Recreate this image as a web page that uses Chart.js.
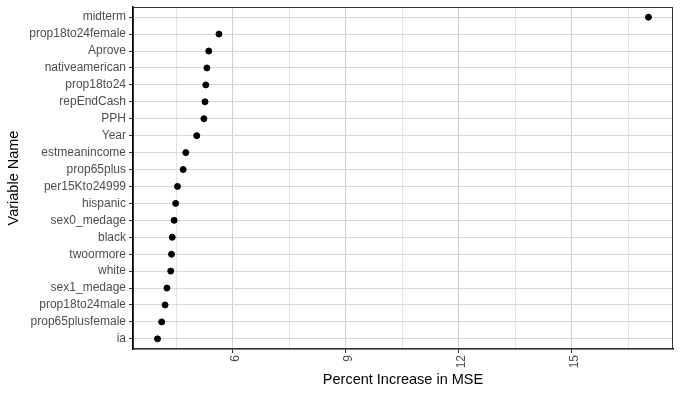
<!DOCTYPE html>
<html>
<head>
<meta charset="utf-8">
<script src="https://cdn.jsdelivr.net/npm/chart.js@4.4.0/dist/chart.umd.min.js"></script>
<style>
html,body{margin:0;padding:0;background:#fff;}
#wrap{width:681px;height:395px;position:relative;}
</style>
</head>
<body>
<div id="wrap"><canvas id="c" width="681" height="395"></canvas></div>
<script>
// Variables, top to bottom
const variables = ["midterm","prop18to24female","Aprove","nativeamerican","prop18to24","repEndCash","PPH","Year","estmeanincome","prop65plus","per15Kto24999","hispanic","sex0_medage","black","twoormore","white","sex1_medage","prop18to24male","prop65plusfemale","ia"];
const pctIncMSE = [17.04,5.64,5.37,5.32,5.29,5.27,5.24,5.05,4.76,4.69,4.54,4.49,4.45,4.40,4.38,4.36,4.26,4.21,4.12,4.01];
const xMajorTicks = [6,9,12,15];
const xMinorTicks = [4.5,7.5,10.5,13.5,16.5];

const points = variables.map((v,i)=>({x:pctIncMSE[i], y:i}));
const n = variables.length;
const lo = Math.min(...pctIncMSE), hi = Math.max(...pctIncMSE);
const pad = (hi-lo)*0.05;

const borderPlugin = {
  id:'panelBorder',
  afterDraw(chart){
    const {ctx, chartArea:a} = chart;
    ctx.save();
    ctx.strokeStyle = '#333';
    ctx.lineWidth = 1;
    ctx.strokeRect(Math.round(a.left)+0.5, Math.round(a.top)+0.5, Math.round(a.right-a.left)-1, Math.round(a.bottom-a.top)-1);
    ctx.restore();
  }
};

new Chart(document.getElementById('c'), {
  type:'scatter',
  data:{datasets:[{data:points, backgroundColor:'#000', borderColor:'#000', pointRadius:3, pointHoverRadius:3}]},
  plugins:[borderPlugin],
  options:{
    responsive:false, animation:false,
    layout:{padding:{top:7,right:8,left:0,bottom:0}},
    plugins:{legend:{display:false}, tooltip:{enabled:false}},
    scales:{
      x:{
        type:'linear', min:lo-pad, max:hi+pad,
        afterBuildTicks(s){ s.ticks = [...xMinorTicks, ...xMajorTicks].sort((a,b)=>a-b).map(v=>({value:v})); },
        afterFit(s){ s.height = 46; s.paddingLeft = 0; s.paddingRight = 0; },
        ticks:{
          minRotation:90, maxRotation:90, padding:2, autoSkip:false, labelOffset:3,
          color:'#4d4d4d', font:{family:'Liberation Sans', size:12},
          callback:(v)=> xMajorTicks.includes(v) ? String(v) : ''
        },
        grid:{
          color:(c)=> xMajorTicks.includes(c.tick && c.tick.value) ? '#cfcfd6' : '#e2e2e8',
          tickColor:(c)=> xMajorTicks.includes(c.tick && c.tick.value) ? '#333' : 'rgba(0,0,0,0)',
          tickLength:4, lineWidth:1
        },
        border:{display:true, color:'#000', width:1.5},
        title:{display:true, text:'Percent Increase in MSE', color:'#000', font:{family:'Liberation Sans', size:14.5}, padding:{top:0,bottom:6}}
      },
      y:{
        type:'linear', reverse:true, min:-0.6, max:n-1+0.6,
        afterBuildTicks(s){ s.ticks = variables.map((v,i)=>({value:i})); },
        afterFit(s){ s.width = 133; s.paddingTop = 0; s.paddingBottom = 0; },
        ticks:{
          autoSkip:false, padding:3, color:'#4d4d4d', font:{family:'Liberation Sans', size:12},
          callback:(v)=> variables[v] ?? ''
        },
        grid:{color:'#d8d8de', tickColor:'#333', tickLength:4, lineWidth:1},
        border:{display:true, color:'#000', width:1.5},
        title:{display:true, text:'Variable Name', color:'#000', font:{family:'Liberation Sans', size:14.5}, padding:{top:5,bottom:0}}
      }
    }
  }
});
</script>
</body>
</html>
